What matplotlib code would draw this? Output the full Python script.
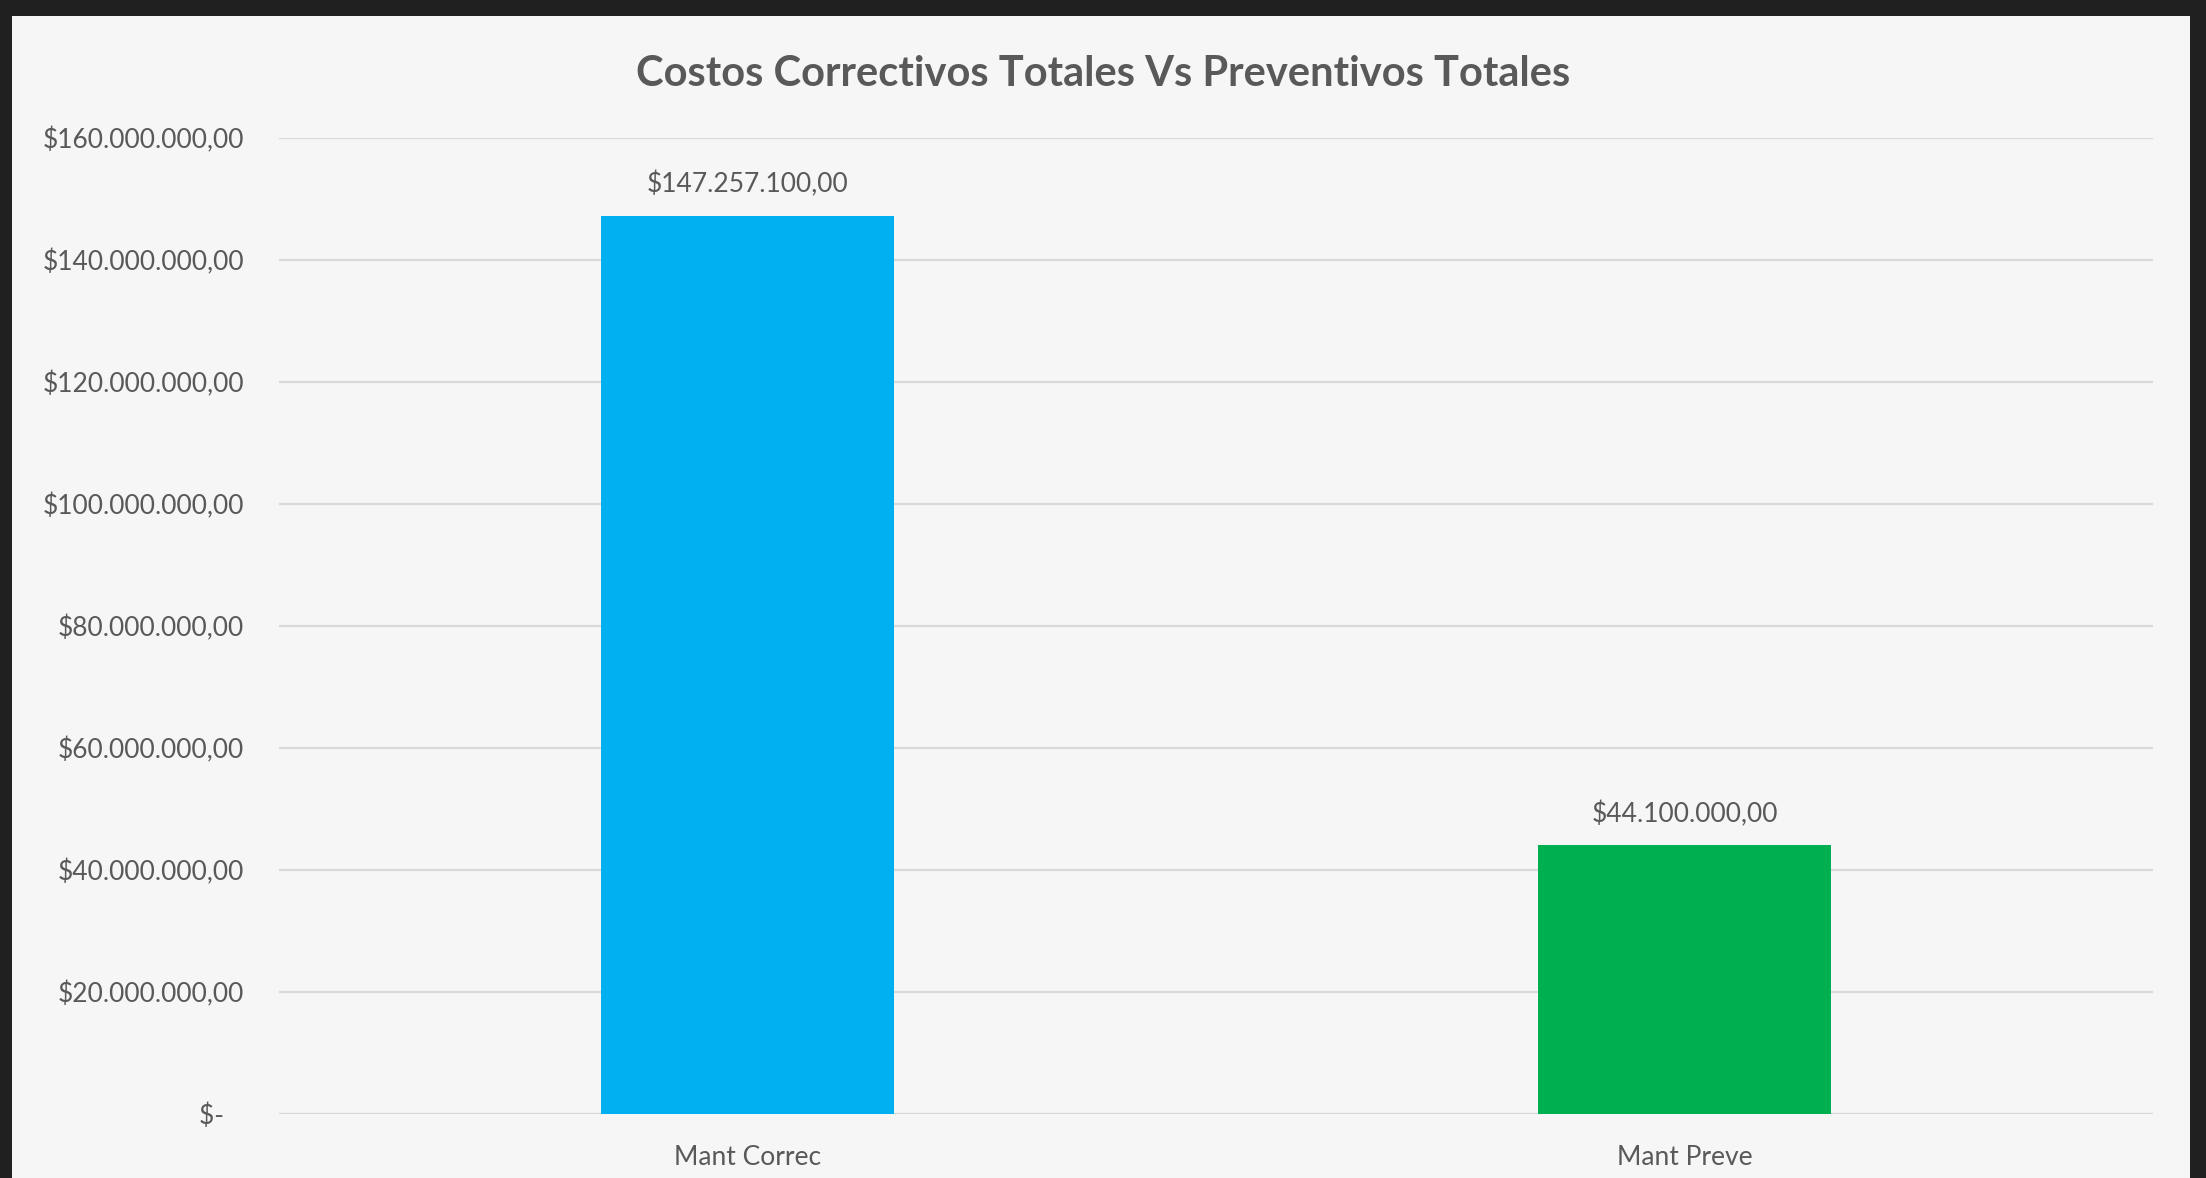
import matplotlib.pyplot as plt
from matplotlib.patches import Rectangle
from matplotlib.ticker import FuncFormatter

categories = ["Mant Correc", "Mant Preve"]
costs = [147257100.00, 44100000.00]
bar_colors = ["#00b0f0", "#00b050"]
y_ticks = [0, 20e6, 40e6, 60e6, 80e6, 100e6, 120e6, 140e6, 160e6]

TEXT = "#595959"
plt.rcParams["font.family"] = ["Lato", "DejaVu Sans"]


def money(v, pos=None):
    if v == 0:
        return "$-   "
    s = f"{v:,.2f}"
    s = s.replace(",", "X").replace(".", ",").replace("X", ".")
    return "$" + s


fig = plt.figure(figsize=(22.06, 11.78), dpi=100, facecolor="#202020")
W, H = 2206, 1178
# light panel inside the dark frame
fig.add_artist(Rectangle((12 / W, 0), (2190 - 12) / W, (1178 - 16) / H,
                         transform=fig.transFigure, facecolor="#f6f6f6",
                         edgecolor="none", zorder=-10))

ax = fig.add_axes([279 / W, 64 / H, (2153 - 279) / W, (1114 - 138) / H])
ax.set_zorder(5)
ax.set_facecolor("none")

x = range(len(categories))
ax.bar(x, costs, width=0.313, color=bar_colors, zorder=3)
for xi, v in zip(x, costs):
    ax.annotate(money(v), (xi, v), xytext=(0, 13), textcoords="offset points",
                ha="center", va="bottom", fontsize=19, color=TEXT)

ax.set_xlim(-0.5, 1.5)
ax.set_ylim(0, 160e6)
ax.set_yticks(y_ticks)
ax.yaxis.set_major_formatter(FuncFormatter(money))
ax.set_xticks(list(x))
ax.set_xticklabels(categories)
ax.tick_params(axis="both", length=0, labelsize=19, labelcolor=TEXT)
ax.tick_params(axis="y", pad=25)
ax.tick_params(axis="x", pad=22)
ax.grid(axis="y", color="#d9d9d9", linewidth=1.6, zorder=0)
ax.set_axisbelow(True)
for s in ax.spines.values():
    s.set_visible(False)

fig.text(0.5, 1 - 74 / H, "Costos Correctivos Totales Vs Preventivos Totales",
         ha="center", va="center", fontsize=30, fontweight="bold", color=TEXT,
         zorder=6)

fig.savefig("out.png", dpi=100, facecolor=fig.get_facecolor())
